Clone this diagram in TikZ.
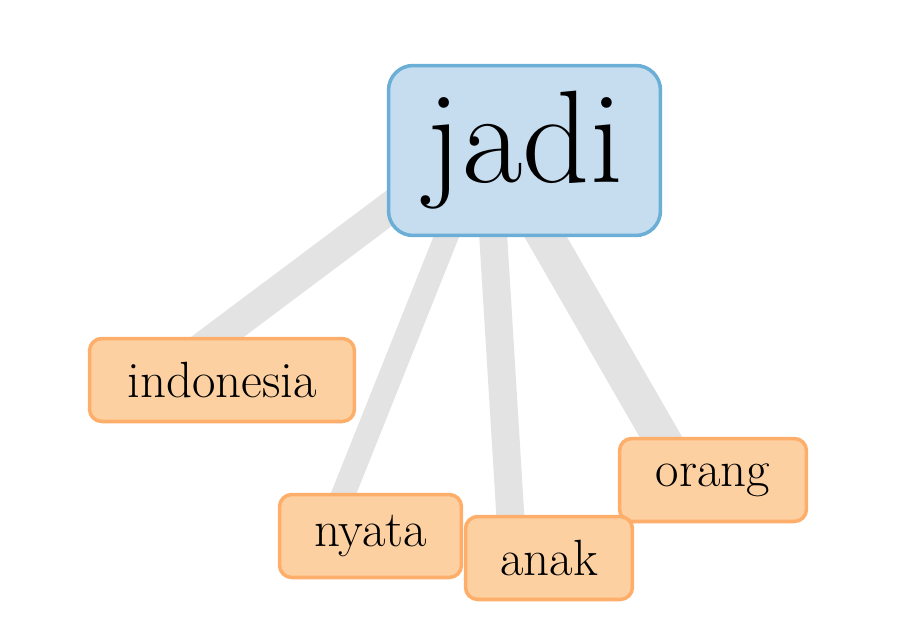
\documentclass[tikz,border=0pt]{standalone}
\usepackage{tikz}

\definecolor{headfill}{HTML}{C6DCEF}
\definecolor{headline}{HTML}{6BAED6}
\definecolor{wordfill}{HTML}{FDD0A2}
\definecolor{wordline}{HTML}{FDAE6B}
\definecolor{linkgrey}{HTML}{E3E3E3}

\tikzset{
	headword/.style={draw=headline, fill=headfill, line width=2pt, rounded corners=14pt,
		minimum width=5.44cm, minimum height=3.4cm, inner sep=0pt, font=\fontsize{75}{80}\selectfont},
	word/.style={draw=wordline, fill=wordfill, line width=2pt, rounded corners=7pt,
		minimum height=1.66cm, inner sep=0pt, font=\fontsize{29}{30}\selectfont},
	link/.style={draw=linkgrey, line cap=butt}
}

\begin{document}
\begin{tikzpicture}[x=0.02cm, y=-0.02cm]
			%%%%% START %%%%%
			
			\useasboundingbox (0, 0) rectangle (900, 625);
			
			\coordinate (jadi-p) at (487, 135);
			\coordinate (indonesia-p) at (180, 365);
			\coordinate (nyata-p) at (331, 525);
			\coordinate (anak-p) at (512, 543);
			\coordinate (orang-p) at (677, 465);
			
			\draw[link, line width=18pt] (jadi-p) -- (indonesia-p);
			\draw[link, line width=13.6pt] (jadi-p) -- (nyata-p);
			\draw[link, line width=15.9pt] (jadi-p) -- (anak-p);
			\draw[link, line width=21pt] (jadi-p) -- (orang-p);
			
			\node[headword] (jadi) at (524.5, 150.5) {jadi};
			
			\node[word, minimum width=5.30cm] (indonesia) at (222, 380) {indonesia};
			\node[word, minimum width=3.64cm] (nyata) at (370.5, 536) {nyata};
			\node[word, minimum width=3.74cm] (orang) at (713, 480) {orang};
			\node[word, minimum width=3.34cm] (anak) at (549, 558) {anak};
			
			%%%%% END %%%%%
\end{tikzpicture}
\end{document}
